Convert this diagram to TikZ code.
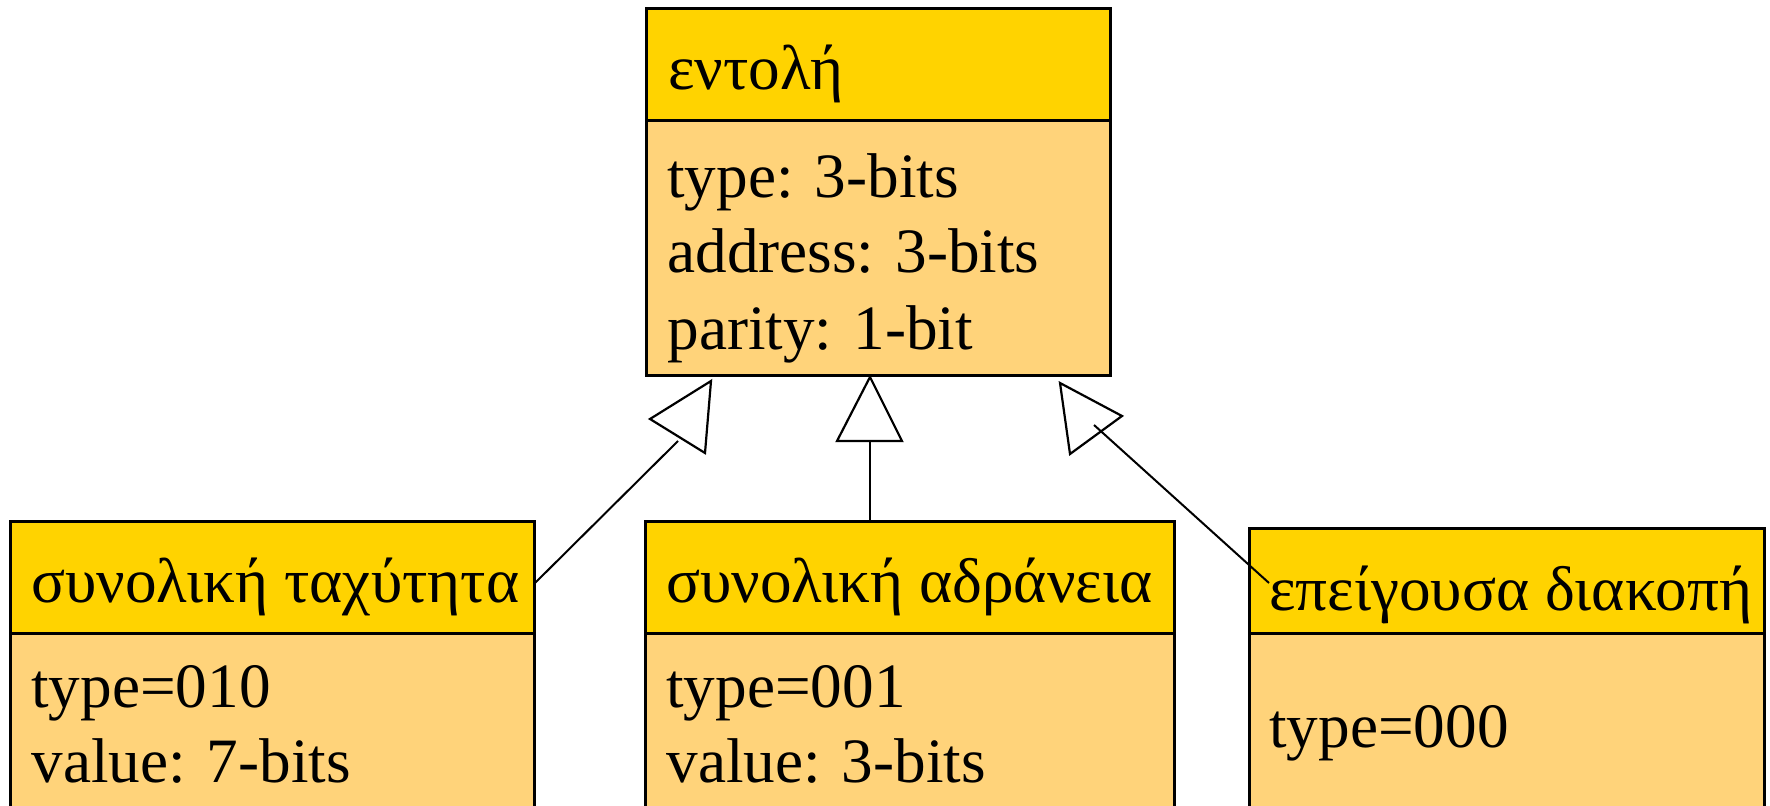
\documentclass[tikz,border=0pt]{standalone}
\usepackage{fontspec}
\setmainfont{Liberation Serif}
\definecolor{hdrgold}{RGB}{255,211,0}
\definecolor{bodyamber}{RGB}{255,211,122}
\begin{document}
\begin{tikzpicture}[x=0.5pt,y=-0.5pt,
  boxpart/.style={draw=black,line width=1.5pt,anchor=north west,inner sep=0pt,outer sep=0pt},
  hdr/.style={boxpart,fill=hdrgold},
  bdy/.style={boxpart,fill=bodyamber},
  lbl/.style={anchor=base west,inner sep=0pt,font=\fontsize{31.6pt}{38pt}\selectfont},
  link/.style={line width=1pt},
  headtip/.style={draw=black,fill=white,line width=1.1pt,line join=miter}]
\useasboundingbox (0,0) rectangle (1770,806);
\clip (0,0) rectangle (1770,806);

% command class
\node[bdy,minimum width=232pt,minimum height=127.5pt] (cmdBody) at (646,121) {};
\node[hdr,minimum width=232pt,minimum height=56pt] (cmdHead) at (646,9) {};
\node[lbl] (cmdName) at (668,90) {εντολή};
\node[lbl] (cmdType) at (667,198) {type: 3-bits};
\node[lbl] (cmdAddr) at (667,273) {address: 3-bits};
\node[lbl] (cmdPar) at (667,350) {parity: 1-bit};

% speed subclass
\node[bdy,minimum width=262pt,minimum height=110pt] (spdBody) at (10,633) {};
\node[hdr,minimum width=262pt,minimum height=56pt] (spdHead) at (10,521) {};
\node[lbl] (spdName) at (31,602) {συνολική ταχύτητα};
\node[lbl] (spdType) at (31,707) {type=010};
\node[lbl] (spdVal) at (31,782) {value: 7-bits};

% inertia subclass
\node[bdy,minimum width=264.5pt,minimum height=110pt] (inrBody) at (645,633) {};
\node[hdr,minimum width=264.5pt,minimum height=56pt] (inrHead) at (645,521) {};
\node[lbl] (inrName) at (666,602) {συνολική αδράνεια};
\node[lbl] (inrType) at (666,707) {type=001};
\node[lbl] (inrVal) at (666,782) {value: 3-bits};

% emergency subclass
\node[bdy,minimum width=257.5pt,minimum height=110pt] (emgBody) at (1249,633) {};
\node[hdr,minimum width=257.5pt,minimum height=52.5pt] (emgHead) at (1249,528) {};
\node[lbl] (emgName) at (1269,610) {επείγουσα διακοπή};
\node[lbl] (emgType) at (1269,747) {type=000};

% generalisation heads
\coordinate (tlA) at (711,381); \coordinate (tlB) at (650,419); \coordinate (tlC) at (705,453);
\coordinate (tmA) at (870,377); \coordinate (tmB) at (837,441); \coordinate (tmC) at (902,441);
\coordinate (trA) at (1060,383); \coordinate (trB) at (1122,416); \coordinate (trC) at (1070,454);
\draw[headtip] (tlA) -- (tlB) -- (tlC) -- cycle;
\draw[headtip] (tmA) -- (tmB) -- (tmC) -- cycle;
\draw[headtip] (trA) -- (trB) -- (trC) -- cycle;

% connector ends
\coordinate (spdJoin) at (535,583);
\coordinate (tlFoot) at (678,441);
\coordinate (inrJoin) at (870,521);
\coordinate (trFoot) at (1094,425);
\coordinate (emgJoin) at (1269,583);

\draw[link] (spdJoin) -- (tlFoot);
\draw[link] (inrJoin) -- (tmB -| inrJoin);
\draw[link] (trFoot) -- (emgJoin);
\end{tikzpicture}
\end{document}
